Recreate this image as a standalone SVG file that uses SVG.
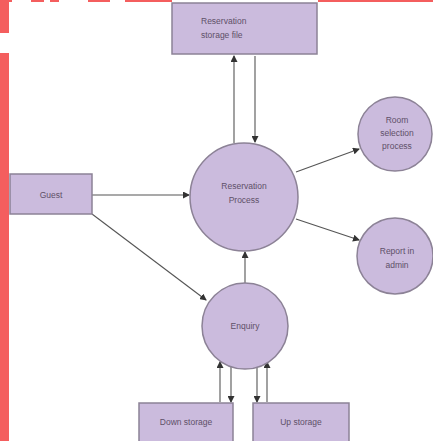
<svg xmlns="http://www.w3.org/2000/svg" width="433" height="441" viewBox="0 0 433 441">
<style>
.n{fill:#cbbbdd;stroke:#8c8296;stroke-width:1.5}
.t{font-family:"Liberation Sans",Arial,sans-serif;font-size:8.5px;fill:#5e5068;text-anchor:middle}
.c line{stroke:#555;stroke-width:1.1;marker-end:url(#a)}
.r{fill:#f45e5e}
</style>
<defs>
<marker id="a" markerWidth="7" markerHeight="7" refX="6" refY="3.5" orient="auto" markerUnits="userSpaceOnUse">
<path d="M0,0 L7,3.5 L0,7 z" fill="#333"/>
</marker>
</defs>
<rect width="433" height="441" fill="#fff"/>
<g id="decor">
<rect class="r" x="0" y="0" width="9" height="33"/>
<rect class="r" x="0" y="53" width="9" height="388"/>
<rect class="r" x="0" y="0" width="12" height="2"/>
<rect class="r" x="31" y="0" width="13" height="2"/>
<rect class="r" x="50" y="0" width="9" height="2"/>
<rect class="r" x="88" y="0" width="22" height="2"/>
<rect class="r" x="125" y="0" width="47" height="2"/>
<rect class="r" x="318" y="0" width="115" height="2"/>
</g>
<g class="c" id="connectors">
<line x1="234" y1="143" x2="234" y2="56"/>
<line x1="255" y1="56" x2="255" y2="142"/>
<line x1="92" y1="195" x2="189" y2="195"/>
<line x1="92" y1="214" x2="206" y2="300"/>
<line x1="245" y1="283" x2="245" y2="252"/>
<line x1="296" y1="172" x2="359" y2="149"/>
<line x1="296" y1="219" x2="359" y2="240"/>
<line x1="220" y1="402" x2="220" y2="362"/>
<line x1="231" y1="366" x2="231" y2="402"/>
<line x1="257" y1="366" x2="257" y2="402"/>
<line x1="267" y1="402" x2="267" y2="362"/>
</g>
<g id="storage-file"><rect class="n" x="172" y="3" width="145" height="51"/><text class="t" style="text-anchor:start" x="201" y="24">Reservation</text><text class="t" style="text-anchor:start" x="201" y="38">storage file</text></g>
<g id="guest"><rect class="n" x="10" y="174" width="82" height="40"/><text class="t" x="51" y="198">Guest</text></g>
<g id="reservation-process"><circle class="n" cx="244" cy="197" r="54"/><text class="t" x="244" y="189">Reservation</text><text class="t" x="244" y="203">Process</text></g>
<g id="room-selection"><circle class="n" cx="395" cy="134" r="37"/><text class="t" x="397" y="123">Room</text><text class="t" x="397" y="136">selection</text><text class="t" x="397" y="149">process</text></g>
<g id="report-admin"><circle class="n" cx="395" cy="256" r="38"/><text class="t" x="397" y="254">Report in</text><text class="t" x="397" y="268">admin</text></g>
<g id="enquiry"><circle class="n" cx="245" cy="326" r="43"/><text class="t" x="245" y="329">Enquiry</text></g>
<g id="down-storage"><rect class="n" x="139" y="403" width="94" height="40"/><text class="t" x="186" y="425">Down storage</text></g>
<g id="up-storage"><rect class="n" x="253" y="403" width="96" height="40"/><text class="t" x="301" y="425">Up storage</text></g>
</svg>
